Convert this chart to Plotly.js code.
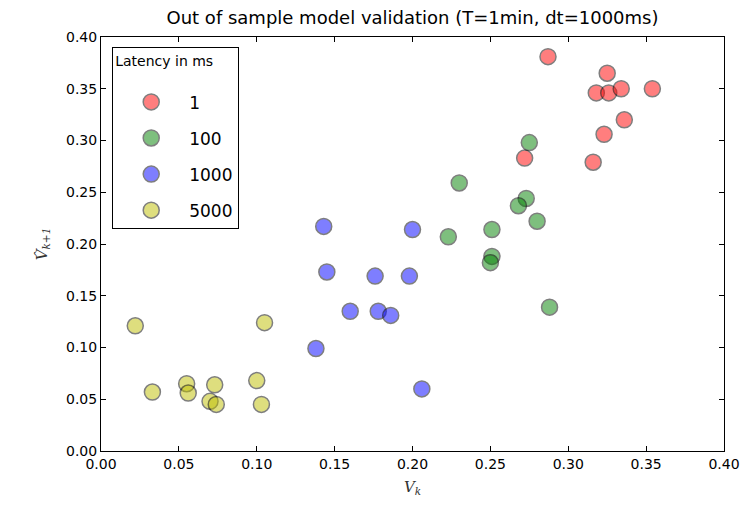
<!DOCTYPE html>
<html>
<head>
<meta charset="utf-8">
<script src="https://cdn.plot.ly/plotly-3.0.1.min.js"></script>
<style>html,body{margin:0;padding:0;background:#fff;}#chart{width:743px;height:506px;}</style>
</head>
<body>
<div id="chart"></div>
<script>
const seriesNames = ["1", "100", "1000", "5000"];
const seriesColors = ["#ff0000", "#008000", "#0000ff", "#bfbf00"];

const x_1 = [0.287, 0.325, 0.318, 0.326, 0.334, 0.354, 0.336, 0.323, 0.316, 0.272];
const y_1 = [0.381, 0.365, 0.346, 0.346, 0.350, 0.350, 0.320, 0.306, 0.279, 0.283];

const x_100 = [0.275, 0.230, 0.273, 0.268, 0.280, 0.251, 0.223, 0.251, 0.250, 0.288];
const y_100 = [0.298, 0.259, 0.244, 0.237, 0.222, 0.214, 0.207, 0.188, 0.182, 0.139];

const x_1000 = [0.143, 0.200, 0.145, 0.176, 0.198, 0.160, 0.178, 0.186, 0.138, 0.206];
const y_1000 = [0.217, 0.214, 0.173, 0.169, 0.169, 0.135, 0.135, 0.131, 0.099, 0.060];

const x_5000 = [0.022, 0.105, 0.033, 0.055, 0.056, 0.073, 0.100, 0.070, 0.074, 0.103];
const y_5000 = [0.121, 0.124, 0.057, 0.065, 0.056, 0.064, 0.068, 0.048, 0.045, 0.045];

const xs = [x_1, x_100, x_1000, x_5000];
const ys = [y_1, y_100, y_1000, y_5000];

const tickVals = [0, 0.05, 0.10, 0.15, 0.20, 0.25, 0.30, 0.35, 0.40];
const tickText = ["0.00", "0.05", "0.10", "0.15", "0.20", "0.25", "0.30", "0.35", "0.40"];

const traces = seriesNames.map((n, i) => ({
  type: "scatter",
  mode: "markers",
  name: n,
  legendgroup: "g" + i,
  x: xs[i],
  y: ys[i],
  marker: {
    size: 16,
    color: seriesColors[i],
    opacity: 0.5,
    line: {color: "#000000", width: 1.5}
  },
  hoverinfo: "x+y"
}));

const axisCommon = {
  showline: true,
  linecolor: "#000000",
  linewidth: 1,
  mirror: "ticks",
  ticks: "inside",
  ticklen: 5,
  tickcolor: "#000000",
  showgrid: false,
  zeroline: false,
  tickvals: tickVals,
  ticktext: tickText,
  tickfont: {family: "DejaVu Sans", size: 14, color: "#000000"}
};

const layout = {
  width: 743,
  height: 506,
  margin: {l: 101, r: 19, t: 37, b: 55},
  paper_bgcolor: "#ffffff",
  plot_bgcolor: "#ffffff",
  font: {family: "DejaVu Sans", color: "#000000"},
  title: {
    text: "Out of sample model validation (T=1min, dt=1000ms)",
    font: {family: "DejaVu Sans", size: 18, color: "#000000"},
    x: 0.5, xref: "paper", xanchor: "center",
    y: 0.965, yref: "container", yanchor: "middle"
  },
  xaxis: Object.assign({}, axisCommon, {
    range: [0, 0.40],
    title: {text: "V<sub>k</sub>", font: {family: "DejaVu Serif", size: 15, color: "#333333", style: "italic"}, standoff: 10}
  }),
  yaxis: Object.assign({}, axisCommon, {
    range: [0, 0.40],
    title: {text: "V\u0302<sub>k+1</sub>", font: {family: "DejaVu Serif", size: 15, color: "#333333", style: "italic"}, standoff: 14}
  }),
  showlegend: true,
  legend: {
    x: 0.018, y: 0.976, xanchor: "left", yanchor: "top",
    bgcolor: "#ffffff",
    bordercolor: "#000000",
    borderwidth: 1,
    font: {family: "DejaVu Sans", size: 17, color: "#000000"},
    title: {text: "Latency in ms<br> ", font: {family: "DejaVu Sans", size: 14, color: "#000000"}},
    tracegroupgap: 11,
    itemwidth: 66
  }
};

Plotly.newPlot("chart", traces, layout, {displayModeBar: false, staticPlot: true});
</script>
</body>
</html>
